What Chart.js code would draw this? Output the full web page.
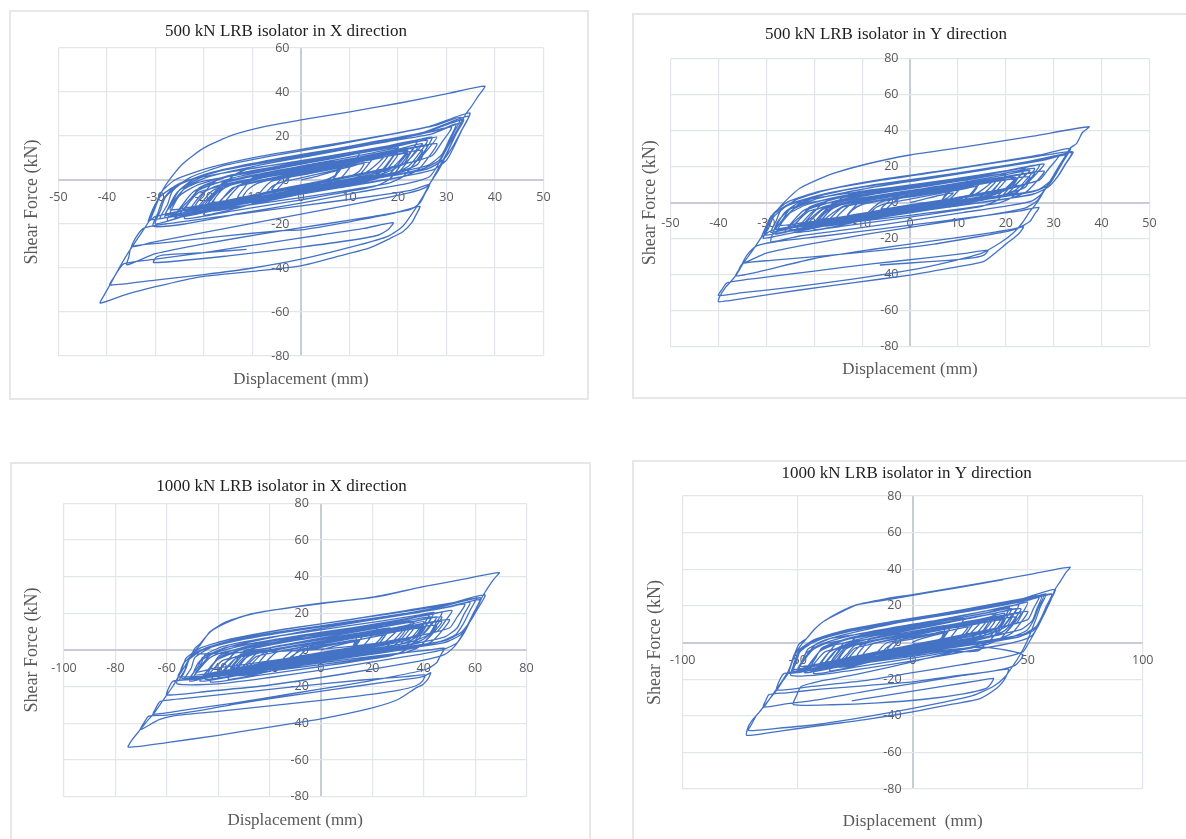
<!DOCTYPE html>
<html>
<head>
<meta charset="utf-8">
<script src="https://cdn.jsdelivr.net/npm/chart.js@4.4.1/dist/chart.umd.min.js"></script>
<style>
  body { margin: 0; background: #fff; width: 1186px; height: 839px; overflow: hidden; position: relative; }
  .box { position: absolute; box-sizing: border-box; border: 2px solid #e5e7eb; }
  canvas { position: absolute; }
</style>
</head>
<body>
<div class="box" style="left:9px;top:10px;width:580px;height:390px"></div>
<div class="box" style="left:632px;top:13px;width:560px;height:386px"></div>
<div class="box" style="left:10px;top:462px;width:581px;height:400px"></div>
<div class="box" style="left:632px;top:460px;width:560px;height:400px"></div>
<canvas id="c500x" width="576" height="386" style="left:11px;top:12px"></canvas>
<canvas id="c500y" width="556" height="382" style="left:634px;top:15px"></canvas>
<canvas id="c1000x" width="577" height="396" style="left:12px;top:464px"></canvas>
<canvas id="c1000y" width="556" height="396" style="left:634px;top:462px"></canvas>
<script>
// displacement (mm), shear force (kN) pairs
const loop500X = [
  [0,0],[3,1.5],[6,3.5],[8,4.5],[7,2],[5,0],[1,-2],[-4,-4],[-7,-5.5],
  [-6,-3],[-4,-1],[0,1],[5,3.5],[10,6],[13,7.5],[12,4],[10,1.5],[5,-1],[-1,-3.5],[-7,-6],[-12,-8],
  [-11,-4.5],[-9,-1.5],[-3,1.5],[4,4.5],[11,7.5],[17,10.5],[15,6],[13,3],[6,-0.5],[-2,-4],[-10,-7.5],[-17,-10.5],
  [-15,-6],[-13,-2.5],[-6,1],[2,4.5],[10,8],[18,11.5],[22,13.5],[20,8],[18,4.5],[11,1],[3,-2.5],[-5,-6],[-13,-9.5],[-21,-13],
  [-19,-8],[-17,-4],[-10,0.5],[0,5],[10,9.5],[20,14],[25,16.5],[23,11],[21,7],[13,3],[3,-1.5],[-7,-6],[-17,-10.5],[-25,-14],
  [-23,-9],[-21,-4.5],[-14,1],[-4,5.5],[7,10],[17,14.5],[24,17.5],[28,19.5],[26,13.5],[24,9],[17,5],[7,0.5],[-3,-4],[-13,-8.5],[-22,-12.5],[-28,-16],
  [-26.5,-10],[-25,-4.5],[-19,1.5],[-9,6.5],[2,11],[14,16],[24,20.5],[31,24],[29,17],[27,11],[20,6.5],[10,1.5],[0,-3],[-10,-7.5],[-20,-12],[-29,-17.5],
  [-27.5,-11],[-26.5,-5],[-23,1],[-16,6.5],[-6,11],[6,15.5],[18,20.5],[28,25],[33,28.5],
  [31.5,21.5],[30,15],[28.5,9],[25,5],[15,0.5],[3,-4.5],[-9,-9.5],[-21,-14],[-31,-18],
  [-30,-12],[-29,-6],[-26,0],[-19,5.5],[-9,10.5],[3,15],[15,19.5],[26,24],[34.8,30.5],
  [33.2,23],[31.5,16],[29.5,9.5],[26,5],[16,1],[4,-3.5],[-8,-8.5],[-19,-13],[-30,-20],
  [-29,-14],[-28,-8],[-25,-2],[-18,3.5],[-8,8],[4,12.5],[16,17.5],[26,22],[33.5,27.5],
  [32,21],[30.5,14],[29,7],[27.5,1.5],[26,-3],[22,-6],[12,-10.5],[0,-15.5],[-12,-20.5],[-24,-25.5],[-31,-28.5],[-34.9,-30.3],
  [-34,-26],[-32.5,-22],[-28,-20],[-18,-17],[-6,-13.5],[6,-10],[16,-7],[23,-4.5],[26.5,-2],
  [25.5,-6.5],[24.5,-10.5],[22.5,-13.5],[15,-16.5],[5,-20],[-8,-24.5],[-20,-29],[-30,-33.5],[-35.9,-38.6],
  [-35.5,-35],[-34.9,-30.3],[-28,-28.5],[-16,-25.5],[-4,-23],[0,-22.7],[10,-19],[19,-15.2],[24.5,-12],
  [23.8,-15.5],[22.8,-19.5],[21,-23.5],[18.4,-26.5],[14,-31],[8,-34.5],[0,-39],[-10,-41.5],[-20.8,-44],[-30,-48.5],[-36,-52],[-41.4,-56],
  [-40.5,-52],[-39.4,-47.7],[-37.5,-40],[-35.9,-34],[-33.5,-26],[-31,-17.5],[-29.6,-10],[-28.7,-5.3],[-27,0.5],[-24.3,7.5],[-20.1,14.5],[-14,20.5],[-7.1,24.5],[0,27.3],[10.1,31],[20.4,35],[30.7,39.5],[37.9,42.7],
  [36.5,38],[35,33],[34,30],[32.5,24],[31,18],[29.5,12],[28,6],[26.5,1.5],[22,-1.5],[12,-5.5],[0,-10.5],[-12,-15],[-24,-20],[-30.5,-21],
  [-29.5,-15],[-28.5,-9],[-26,-3],[-20,2.5],[-10,7.5],[2,12],[14,17],[25,21.5],[34.5,29],
  [33,22],[31.5,15],[30,9],[27,4.5],[17,0],[5,-4],[-7,-9],[-18,-13],[-28,-17],
  [-27,-11],[-25.5,-5.5],[-22,0.5],[-14,5.5],[-4,10],[8,14.5],[20,19],[29,23],[32,25.5],
  [30.5,18],[29,11.5],[26,6.5],[16,2],[4,-2.5],[-8,-7.5],[-19,-12],[-27.5,-18.5],
  [-26.5,-12.5],[-25,-7],[-21,-2],[-13,3],[-3,7],[9,11.5],[20,16],[27,19.5],
  [25.5,13],[24,7],[19,3],[8,-1.5],[-4,-6],[-15,-10.5],[-24,-14],
  [-22.5,-8.5],[-21,-3.5],[-15,1.5],[-5,6],[7,10.5],[18,15],[24,18],
  [22.5,12],[21,7],[14,3],[3,-1.5],[-9,-6.5],[-19,-10.5],
  [-17.5,-5.5],[-16,-1],[-8,3],[3,7.5],[14,12],[20,14.5],
  [18.5,9],[17,5],[8,1],[-3,-3.5],[-13,-8],
  [-11.5,-3],[-10,1],[0,5],[10,9],[15,11],
  [13.5,6],[12,2.5],[3,-1],[-6,-4.5],
  [-4.5,-0.5],[-3,2.5],[5,6],[9,7.5],
  [7.5,3],[6,-1],[0,-4.5],[-8,-8],[-16,-11.5],
  [-14,-5.5],[-12,-1.5],[-5,2.5],[4,6],[12,9],[18,11.5],
  [16,5.5],[14,1.5],[6,-2.5],[-3,-6.5],[-12,-10],[-20,-13.5],
  [-18,-7.5],[-16,-3],[-8,1.5],[2,5.5],[12,9.5],[22,13],
  [20,7],[18,2.5],[10,-1.5],[0,-6],[-10,-10],[-22,-15],
  [-20,-9],[-18,-4.5],[-10,0],[0,4.5],[10,8.5],[20,13],[26,15.5],
  [24,9],[22,4.5],[14,0.5],[4,-4],[-6,-8.5],[-16,-12.5],[-25,-16],
  [-23,-10],[-21,-5.5],[-13,-1],[-3,3.5],[7,8],[17,12],[24,15],
  [22,8.5],[20,3.5],[12,-1],[2,-5.5],[-8,-10],[-18,-14],
  [-16,-8],[-14,-3.5],[-6,0.5],[4,5],[14,9.5],[20,12],
  [18,5.5],[16,1],[8,-3],[-2,-7],[-10,-10.5],
  [-8,-4.5],[-6,-0.5],[2,3],[10,6.5],[14,8],
  [12,2],[10,-1.5],[2,-5],[-6,-8],
  [-4,-2],[-2,1.5],[5,4.5],[8,5.5],
  [6.5,0],[4,-3.5],[0,-6],[-10,-11],[-20,-16],
  [-18,-9],[-16,-4],[-13,-1],[0,4],[14,9],[22,12],
  [20,5],[18,0],[15,-3],[0,-9],[-14,-14],[-24,-17.5],
  [-22,-10.5],[-20,-5.5],[-17,-2.5],[0,4.5],[16,10],[25,13.5],
  [23,6.5],[21,1.5],[18,-1.5],[0,-8],[-16,-13],[-26,-17],
  [-24,-10],[-22,-5],[-19,-2],[-8,2.5],[6,8],[20,13.5],[28,16.5],
  [26,9.5],[24,4.5],[21,1.5],[8,-3.5],[-6,-8.5],[-20,-13],[-28,-16],
  [-26,-9],[-24,-4],[-21,-1],[-10,3.5],[4,9],[18,14.5],[26,18],
  [24,11],[22,6],[19,3],[6,-2],[-8,-7.5],[-22,-12],[-27,-13.5],
  [-25,-6.5],[-23,-1.5],[-20,1.5],[-8,6],[6,11],[18,15.5],[24,18],
  [22,11],[20,6],[17,3],[4,-2],[-10,-7],[-18,-10],
  [-16,-3],[-14,2],[-11,5],[0,8.5],[12,12.5],
  [10,5.5],[8,0.5],[5,-2.5],[-6,-7],[-16,-11],[-22,-13],
  [-20,-6],[-18,-1],[-15,2],[-4,6.5],[10,11.5],[20,15],
  [18,8],[16,3],[13,0],[0,-5],[-12,-9.5],[-20,-12.5],
  [-18,-6],[-16,-1.5],[-8,2.5],[2,6.5],[8,8.5],
  [6.5,0],[4,-3],[0,-4.5],[-10,-8],[-20,-12],[-30,-16.5],[-31.5,-19],
  [-30.5,-13],[-29,-7.5],[-25,-1.5],[-17,4],[-6,8.5],[6,13],[18,17.5],[27,21],[33,26],
  [31.5,19],[30,12],[28.5,6],[27,0],[26,-4],[25,-8],[23,-15],[21,-21],[18,-25.5],[12,-29.5],[0,-36],[-10,-40],[-20,-43],[-30,-45.5],[-39.4,-47.7],
  [-38.5,-44],[-37.5,-40.5],[-36.5,-38],[-30,-36],[-20,-33],[-8,-29],[4,-25],[13,-22],[19,-19.4],
  [18,-22.5],[16,-25],[10,-27.5],[0,-30.5],[-15,-34.5],[-30.4,-37.6],
  [-29.8,-35],[-28,-34],[-20,-33],[-11.2,-31.5]
];

const loop500Y = [
  [0,0],[3,2],[6,4],[9,5.5],[8,3],[6,0.5],[1,-1.5],[-4,-3.5],[-8,-5],
  [-7,-2.5],[-5,-0.5],[0,2],[6,5],[11,7.5],[14,9],[13,5],[11,2.5],[5,-0.5],[-2,-3],[-8,-5.5],[-13,-7.5],
  [-12,-4],[-10,-1],[-4,2],[3,5],[10,8],[17,11.5],[15,7],[13,4],[6,0.5],[-2,-3],[-10,-6.5],[-18,-10],
  [-16,-5.5],[-14,-2],[-7,2],[1,5.5],[10,9.5],[18,13],[23,15.5],[21,10],[19,6],[12,2],[3,-1.5],[-5,-5],[-14,-8.5],[-22,-12],
  [-20,-7],[-18,-3],[-11,1.5],[-1,6],[9,10.5],[19,15],[25,18],[23,12.5],[21,8],[13,4],[3,-0.5],[-7,-5],[-17,-9.5],[-25,-13],
  [-23,-8],[-21,-3.5],[-14,2],[-4,7],[7,11.5],[17,16],[24,19.5],[28,21.5],[26,15],[24,10],[17,6],[7,1.5],[-3,-3],[-13,-7.5],[-22,-11.5],[-28,-15],
  [-26.5,-9],[-25,-3.5],[-19,2.5],[-9,8],[2,13],[14,18],[24,22.5],[31,26],[29,19],[27,12.5],[20,8],[10,3],[0,-2],[-10,-6.5],[-20,-11],[-29,-16.5],
  [-28,-10.5],[-27,-4.5],[-23.5,2],[-16,8],[-6,13],[6,17.5],[18,22.5],[27,26.5],[33.5,30.2],
  [32,23],[30.5,16],[29,10],[25.5,6],[15,1.5],[3,-3.5],[-9,-8.5],[-21,-13],[-30.3,-18],
  [-29.5,-12],[-28.5,-6],[-25.5,0.5],[-18.5,6.5],[-8.5,11.5],[3,16],[15,21],[26,25.5],[34,28.3],
  [32.5,21.5],[31,15],[29,9],[25.5,4.5],[15.5,0.5],[4,-4],[-8,-9],[-19,-13.5],[-30.6,-19.8],
  [-29.5,-14],[-28.5,-8],[-25.5,-1.5],[-18.5,4.5],[-8.5,9.5],[3.5,14],[16,19],[26,23.5],[32.5,27],
  [31,20],[29.5,13],[28,6.5],[26.5,1],[24,-3],[15,-7.5],[3,-12.5],[-9,-17.5],[-21,-23],[-30,-28],[-34.9,-33.7],
  [-34,-29],[-32,-24],[-28,-21.7],[-18,-18.5],[-6,-14.5],[6,-10.5],[16,-7],[23,-4.5],[26.9,-2.6],
  [26,-6.5],[25,-10.5],[22.5,-14],[15,-17.5],[4,-21.5],[-8,-26],[-20,-31],[-31.5,-38.3],[-36.4,-40.7],
  [-35.8,-37.5],[-34.9,-33.7],[-29,-32],[-18,-29.5],[-6,-26.5],[5,-23],[15,-18.5],[21,-15.5],[23.7,-13.3],
  [22.8,-17],[21.5,-20],[20.2,-22.6],[18,-27.5],[15.3,-32.8],[8,-36.5],[0,-40.2],[-12,-44.5],[-23,-48.5],[-32,-52],[-38,-54.5],[-40,-55],
  [-39.8,-52.5],[-38.5,-47],[-36.4,-40.7],[-34.9,-34],[-33,-27],[-31,-19],[-29.2,-9.6],[-27.1,-2.2],[-25,3.5],[-23,8],[-19.5,12.5],[-16,16.3],[-9,21.5],[0,26.5],[11.8,31.1],[25.7,37],[37.4,42.2],
  [36,39],[34.8,33],[33.4,30.2],[32,24],[30.5,17.5],[29,11],[27.5,5],[25.5,1],[21,-1.5],[11,-5.5],[0,-10],[-12,-14.5],[-23,-18.5],[-29,-21.7],
  [-28.5,-16],[-27.5,-10],[-25,-3.5],[-19,2.5],[-9,8],[3,13],[15,18],[26,23],[33.8,28],
  [32.3,21],[30.8,14.5],[29,9],[26,5],[16,0.5],[4,-3.5],[-8,-8],[-19,-12.5],[-28.5,-17],
  [-27.5,-11],[-26,-5],[-22.5,1],[-14.5,6.5],[-4.5,11],[7.5,15.5],[19.5,20],[28.5,24],[32.5,26.5],
  [31,19.5],[29.5,12.5],[26.5,7],[16,2.5],[4,-2],[-8,-7],[-19,-11.5],[-28,-17.5],
  [-27,-12],[-25.5,-6.5],[-21.5,-1],[-13.5,4],[-3.5,8.5],[8.5,13],[19.5,17.5],[27,21],
  [25.5,14.5],[24,8.5],[19,4],[8,-0.5],[-4,-5],[-15,-9.5],[-24,-13],
  [-22.5,-7.5],[-21,-2.5],[-15,2.5],[-5,7.5],[7,12],[18,16.5],[24,19.5],
  [22.5,13.5],[21,8],[14,4],[3,-0.5],[-9,-5.5],[-19,-9.5],
  [-17.5,-4.5],[-16,0],[-8,4.5],[3,9],[14,13.5],[20,16],
  [18.5,10.5],[17,6],[8,2],[-3,-2.5],[-13,-7],
  [-11.5,-2],[-10,2],[0,6.5],[10,10.5],[15,12.5],
  [13.5,7.5],[12,3.5],[3,0],[-6,-3.5],
  [-4.5,0.5],[-3,3.5],[5,7],[9,8.5],
  [7.5,4],[6,0],[0,-3.5],[-8,-7],[-16,-10.5],
  [-14,-4.5],[-12,-0.5],[-5,3.5],[4,7],[12,10],[18,12.5],
  [16,6.5],[14,2.5],[6,-1.5],[-3,-5.5],[-12,-9],[-20,-12.5],
  [-18,-6.5],[-16,-2],[-8,2.5],[2,6.5],[12,10.5],[22,14],
  [20,8],[18,3.5],[10,-0.5],[0,-5],[-10,-9],[-22,-14],
  [-20,-8],[-18,-3.5],[-10,1],[0,5.5],[10,9.5],[20,14],[26,16.5],
  [24,10],[22,5.5],[14,1.5],[4,-3],[-6,-7.5],[-16,-11.5],[-25,-15],
  [-23,-9],[-21,-4.5],[-13,0],[-3,4.5],[7,9],[17,13],[24,16],
  [22,9.5],[20,4.5],[12,0],[2,-4.5],[-8,-9],[-18,-13],
  [-16,-7],[-14,-2.5],[-6,1.5],[4,6],[14,10.5],[20,13],
  [18,6.5],[16,2],[8,-2],[-2,-6],[-10,-9.5],
  [-8,-3.5],[-6,0.5],[2,4],[10,7.5],[14,9],
  [12,3],[10,-0.5],[2,-4],[-6,-7],
  [-4,-1],[-2,2.5],[5,5.5],[8,6.5],
  [6.5,1],[4,-2.5],[0,-5],[-10,-10],[-20,-15],
  [-18,-8],[-16,-3],[-13,0],[0,5],[14,10],[22,13],
  [20,6],[18,1],[15,-2],[0,-8],[-14,-13],[-24,-16.5],
  [-22,-9.5],[-20,-4.5],[-17,-1.5],[0,5.5],[16,11],[25,14.5],
  [23,7.5],[21,2.5],[18,-0.5],[0,-7],[-16,-12],[-26,-16],
  [-24,-9],[-22,-4],[-19,-1],[-8,3.5],[6,9],[20,14.5],[28,17.5],
  [26,10.5],[24,5.5],[21,2.5],[8,-2.5],[-6,-7.5],[-20,-12],[-28,-15],
  [-26,-8],[-24,-3],[-21,0],[-10,4.5],[4,10],[18,15.5],[26,19],
  [24,12],[22,7],[19,4],[6,-1],[-8,-6.5],[-22,-11],[-27,-12.5],
  [-25,-5.5],[-23,-0.5],[-20,2.5],[-8,7],[6,12],[18,16.5],[24,19],
  [22,12],[20,7],[17,4],[4,-1],[-10,-6],[-18,-9],
  [-16,-2],[-14,3],[-11,6],[0,9.5],[12,13.5],
  [10,6.5],[8,1.5],[5,-1.5],[-6,-6],[-16,-10],[-22,-12],
  [-20,-5],[-18,0],[-15,3],[-4,7.5],[10,12.5],[20,16],
  [18,9],[16,4],[13,1],[0,-4],[-12,-8.5],[-20,-11.5],
  [-18,-5],[-16,-0.5],[-8,3.5],[2,7.5],[8,9.5],
  [6.5,1],[4,-2],[0,-3.5],[-10,-7],[-20,-11],[-29,-15.5],[-31,-19],
  [-30,-13],[-29,-7.5],[-25.5,-1],[-17.5,5],[-6.5,10],[5.5,14.5],[17.5,19.5],[26.5,23.5],[32.5,27],
  [31,20],[29.5,13],[28,6.5],[26.5,0],[25,-5],[23.5,-11],[21.5,-17],[19,-22],[15,-28],[8,-33],[0,-37.5],[-12,-42.5],[-25,-47],[-35,-50],[-40,-51.5],
  [-39.2,-48],[-38.2,-44.5],[-32,-42],[-20,-38],[-8,-34],[4,-30.5],[12,-28],[16.3,-26.3],
  [15.5,-29],[13.5,-30.5],[8,-32],[0,-33.5],[-6.3,-34.6]
];

const loop1000X = [
  [0,0],[5,2],[11,4],[15,5],[13,2.5],[10,0],[2,-2],[-7,-4],[-13,-5.5],
  [-11,-3],[-8,-0.5],[0,1.5],[9,4],[18,6.5],[24,8],[22,4.5],[19,1.5],[9,-1],[-2,-3.5],[-13,-6],[-22,-8],
  [-20,-4.5],[-17,-1],[-6,2],[6,5],[19,8.5],[30,11.5],[27,7],[24,3.5],[12,0],[-3,-3.5],[-17,-7],[-31,-10.5],
  [-28,-6],[-25,-2],[-12,2],[3,5.5],[18,9.5],[32,13],[40,15.5],[37,9.5],[34,5.5],[20,1.5],[6,-2],[-9,-5.5],[-24,-9],[-38,-12.5],
  [-35,-7.5],[-32,-3],[-19,1.5],[0,6.5],[18,11],[36,15.5],[45,18],[42,12],[39,8],[24,3.5],[6,-1],[-12,-5.5],[-31,-10],[-45,-13.5],
  [-42,-8],[-39,-3.5],[-26,2],[-8,7],[12,12],[31,16.5],[43,19.5],[51,21.5],[48,15],[45,10],[31,6],[13,1.5],[-5,-3],[-23,-7.5],[-40,-12],[-51,-15.5],
  [-48,-9.5],[-46,-4],[-35,2],[-17,7.5],[3,12.5],[25,17.5],[44,22],[56,25],[53,18],[50,12],[37,7.5],[19,2.5],[0,-2],[-18,-6.5],[-36,-11],[-53,-16],
  [-50.5,-10],[-49,-4],[-42,2],[-29,7.5],[-11,12],[11,16.5],[33,21.5],[52,26],[60.6,29],
  [58,21.5],[55.5,14.5],[52.5,8.5],[46,4.5],[28,0],[6,-4.5],[-16,-9],[-38,-13.5],[-55.5,-14.5],
  [-54,-10],[-52.5,-4.5],[-47,1],[-35,6],[-16,11],[6,15.5],[28,20],[48,24.5],[63.8,30],
  [61,22.5],[58,15.5],[54.5,9.5],[48,5],[29,1],[7,-3.5],[-15,-8.5],[-35,-12.5],[-54.9,-16.4],
  [-53,-11],[-51.5,-5.5],[-46,0],[-33,5],[-15,9.5],[7,14],[29,18.5],[48,23],[62,27.5],
  [59.5,20.5],[57,13.5],[54.5,7],[52,2],[48,-2.5],[40,-5.5],[22,-10],[0,-15],[-22,-19.5],[-44,-22.5],[-60,-24.5],
  [-59,-20],[-57.5,-17],[-50,-16],[-33,-13],[-11,-9],[11,-5],[29,-2],[42,0],[48,1],
  [46.5,-3],[45,-7],[41,-10.5],[28,-14.5],[10,-19],[-12,-24],[-34,-29],[-52,-32.5],[-65.2,-34.9],
  [-64,-31],[-62.5,-28],[-50,-26],[-33.5,-23.5],[-10,-20],[15,-16.5],[33,-14.5],[40.5,-13.6],
  [39.5,-17],[37,-19.5],[30,-22],[15,-25],[0,-27.5],[-20,-30.5],[-40,-33.5],[-56.8,-35.8],[-63,-38],[-70.4,-43.6],
  [-69,-40],[-67,-36],[-60,-35.5],[-45,-32.5],[-33.5,-29.5],[-15,-25.5],[5,-21.5],[25,-17.5],[39.8,-14.5],[42.7,-12.4],
  [42,-15],[41,-17],[39.5,-19],[37.2,-20.5],[30,-27],[20,-31.5],[0,-37.5],[-20,-42],[-40,-46.5],[-60,-50.5],[-75,-53],
  [-73.5,-49],[-70.4,-43.6],[-67.5,-38.5],[-65.2,-34.9],[-62.5,-29.5],[-60,-24.5],[-57.5,-19.5],[-55.5,-14.5],[-53,-9],[-50,-2],[-47,2.7],[-43.2,10],[-36.7,15.5],[-26.3,20],[-13,23],[0,25.5],[21.7,29],[39.8,34.5],[55,38.5],[69.4,42.2],
  [67.5,39],[65,34],[63.2,30],[61,24],[58.5,17],[56,10],[53,4],[48,0.5],[40,-2],[20,-6.5],[0,-11],[-20,-15],[-40,-18.5],[-56,-18.5],
  [-55,-13],[-53.5,-7.5],[-49,-1.5],[-38,4],[-20,9],[2,13.5],[24,18],[45,23],[62,28.5],
  [60,21.5],[57.5,14.5],[54.5,8.5],[48,4],[29,0],[7,-4],[-15,-8.5],[-36,-13],[-54,-15.5],
  [-52.5,-10],[-51,-4.5],[-45,1],[-32,6],[-13,10.5],[9,15],[31,19.5],[50,23.5],[58,26],
  [55.5,19],[53,12],[48,7],[30,2],[8,-2.5],[-14,-7],[-34,-11.5],[-51,-17],
  [-49.5,-12],[-47.5,-6.5],[-41,-1.5],[-27,3.5],[-8,8],[14,12.5],[33,17],[47,20.5],
  [44.5,14],[42,8.5],[34,4],[15,-0.5],[-7,-5],[-27,-9.5],[-44,-13.5],
  [-42,-8],[-39.5,-3],[-29,2],[-10,7],[12,11.5],[31,16],[42,19],
  [39.5,13],[37,8],[25,3.5],[5,-1],[-16,-5.5],[-35,-10],
  [-32.5,-5],[-30,-0.5],[-15,4],[5,8.5],[24,13],[35,15.5],
  [32.5,10],[30,6],[15,2],[-5,-2.5],[-24,-7],
  [-21.5,-2.5],[-19,1.5],[0,6],[18,10],[27,12],
  [24.5,7],[22,3],[5,-0.5],[-11,-4],
  [-8.5,0],[-6,3],[8,6.5],[16,8],
  [14,3],[11,-1],[0,-4.5],[-14,-8],[-29,-11.5],
  [-25.5,-5.5],[-22,-1.5],[-9,2.5],[7,6],[22,9],[32,11.5],
  [28.5,5.5],[25,1.5],[11,-2.5],[-5,-6.5],[-22,-10],[-36,-13.5],
  [-32.5,-7.5],[-29,-3],[-14,1.5],[4,5.5],[22,9.5],[40,13],
  [36.5,7],[33,2.5],[18,-1.5],[0,-6],[-18,-10],[-40,-15],
  [-36.5,-9],[-33,-4.5],[-18,0],[0,4.5],[18,8.5],[36,13],[47,15.5],
  [43.5,9],[40,4.5],[25,0.5],[7,-4],[-11,-8.5],[-29,-12.5],[-45,-16],
  [-41.5,-10],[-38,-5.5],[-23,-1],[-5,3.5],[13,8],[31,12],[43,15],
  [39.5,8.5],[36,3.5],[22,-1],[4,-5.5],[-14,-10],[-32,-14],
  [-28.5,-8],[-25,-3.5],[-11,0.5],[7,5],[25,9.5],[36,12],
  [32.5,5.5],[29,1],[14,-3],[-4,-7],[-18,-10.5],
  [-14.5,-4.5],[-11,-0.5],[4,3],[18,6.5],[25,8],
  [21.5,2],[18,-1.5],[4,-5],[-11,-8],
  [-7.5,-2],[-4,1.5],[9,4.5],[14,5.5],
  [12,0],[8,-3.5],[0,-6],[-18,-11],[-36,-16],
  [-32.5,-9],[-29,-4],[-23.5,-1],[0,4],[25,9],[40,12],
  [36.5,5],[33,0],[27.5,-3],[0,-9],[-25,-14],[-43,-17.5],
  [-39.5,-10.5],[-36,-5.5],[-30.5,-2.5],[0,4.5],[29,10],[45,13.5],
  [41.5,6.5],[38,1.5],[32.5,-1.5],[0,-8],[-29,-13],[-47,-17],
  [-43.5,-10],[-40,-5],[-34.5,-2],[-14,2.5],[11,8],[36,13.5],[50,16.5],
  [46.5,9.5],[43,4.5],[37.5,1.5],[14,-3.5],[-11,-8.5],[-36,-13],[-50,-16],
  [-46.5,-9],[-43,-4],[-37.5,-1],[-18,3.5],[7,9],[32,14.5],[47,18],
  [43.5,11],[40,6],[34.5,3],[11,-2],[-14,-7.5],[-40,-12],[-49,-13.5],
  [-45.5,-6.5],[-42,-1.5],[-36.5,1.5],[-14,6],[11,11],[32,15.5],[43,18],
  [39.5,11],[36,6],[30.5,3],[7,-2],[-18,-7],[-32,-10],
  [-28.5,-3],[-25,2],[-19.5,5],[0,8.5],[22,12.5],
  [18.5,5.5],[15,0.5],[9.5,-2.5],[-11,-7],[-29,-11],[-40,-13],
  [-36.5,-6],[-33,-1],[-27.5,2],[-7,6.5],[18,11.5],[36,15],
  [32.5,8],[29,3],[23.5,0],[0,-5],[-22,-9.5],[-36,-12.5],
  [-32.5,-6],[-29,-1.5],[-14,2.5],[4,6.5],[14,8.5],
  [12,1],[9,-1.5],[0,-2.5],[-15,-5],[-30,-8],[-42,-10],[-48,-12],
  [-46.5,-7],[-45,-2.5],[-38,2],[-22,6.5],[0,11],[22,15.5],[38,19],[44,20.5],
  [41.5,14.5],[39,9],[33,6],[15,2.5],[-5,0],[-25,-1],[-40,-1.8],[-50,-2],
  [-49,1],[-47,3.5],[-43,10],[-36.5,15],[-30,18.5],[-20,21.5],[0,25.3],[20,28.8],[39.8,34.5]
];

const loop1000Y = [
  [-26.5,-31.9],[-15,-29.5],[0,-26.5],[15,-23.5],[28,-21],[35.1,-19.6],
  [34,-22.5],[32,-25],[22,-28],[5,-31],[-15,-33],[-35,-34],[-51.9,-33.9],
  [-50.5,-29],[-48.5,-24],[-40,-21],[-25,-17.5],[-10,-13.5],[5,-9],[18,-5],[28,-1.5],[32,1],
  [30.5,-2.5],[28.5,-4.5],[18,-5],[8,-3],[0,0],
  [5,2.5],[11,4.5],[15,5.5],[13,3],[10,0.5],[2,-1.5],[-7,-3.5],[-13,-5],
  [-11,-2.5],[-8,0],[0,2],[9,4.5],[18,7],[24,8.5],[22,5],[19,2],[9,-0.5],[-2,-3],[-13,-5.5],[-22,-7.5],
  [-20,-4],[-17,-0.5],[-6,2.5],[6,5.5],[19,9],[30,12],[27,7.5],[24,4],[12,0.5],[-3,-3],[-17,-6.5],[-31,-10],
  [-28,-5.5],[-25,-1.5],[-12,2.5],[3,6],[18,10],[32,13.5],[40,16],[37,10],[34,6],[20,2],[6,-1.5],[-9,-5],[-24,-8.5],[-38,-12],
  [-35,-7],[-32,-2.5],[-19,2],[0,7],[18,11.5],[36,16],[45,18.5],[42,12.5],[39,8.5],[24,4],[6,-0.5],[-12,-5],[-31,-9.5],[-45,-13],
  [-42,-7.5],[-39,-3],[-26,2.5],[-8,7.5],[12,12.5],[31,17],[43,20],[50,22],[47.5,15.5],[45,10.5],[31,6.5],[13,2],[-5,-2.5],[-23,-7],[-40,-11.5],[-50,-15],
  [-47.5,-9],[-45.5,-3.5],[-35,2.5],[-17,8],[3,13],[25,18],[43,22.5],[55,25.5],[52.5,18.5],[50,12.5],[37,8],[19,3],[0,-1.5],[-18,-6],[-36,-10.5],[-52,-16],
  [-50.5,-10.5],[-49,-5],[-42,1],[-29,6.5],[-11,11],[11,15.5],[33,20.5],[48,24],[56.8,25.3],
  [54.5,18.5],[52.5,12],[49.5,6.5],[43,3],[25,-1],[3,-5.5],[-19,-10],[-39,-14],[-54.1,-16.8],
  [-53,-12.3],[-51.2,-5.9],[-46,-1],[-34,4.5],[-15,9.5],[7,14],[29,18.5],[48,24],[61.9,29],
  [59.5,22],[57,15],[54,9],[48,4.5],[29,0.5],[7,-4],[-15,-8.5],[-35,-12.5],[-52,-16],
  [-51,-11],[-49.5,-5.5],[-44,0],[-31,5],[-13,9.5],[9,14],[31,18.5],[50,23],[60.4,26.2],
  [58,19],[55.5,12],[53,5.5],[50.5,0],[48,-5],[40,-8],[22,-12],[0,-16.5],[-22,-21],[-44,-24],[-59.1,-26],
  [-58,-21],[-56,-17],[-48,-15.5],[-31,-12.5],[-10,-8.5],[12,-4.5],[30,-2.5],[42,-4.5],[48,-6.8],
  [46.5,-10],[44.5,-12.5],[38,-15],[22,-18],[2,-22],[-20,-26.5],[-40,-31],[-55,-33.5],[-64.9,-35.2],
  [-64,-32],[-62.5,-28.5],[-55,-27.5],[-40,-25.5],[-20,-23.5],[0,-21.5],[20,-18],[33,-16],[41.6,-14.5],
  [41,-17.5],[39.5,-21],[36.5,-25],[29.3,-30.6],[18,-33.5],[0,-37.9],[-20,-42],[-35,-44.5],[-50.4,-47.1],[-62,-49.2],[-72.2,-50.7],
  [-71.5,-46],[-69.5,-42],[-67,-38.5],[-64.9,-35.2],[-62,-30.5],[-59.1,-26],[-56.5,-21],[-54.1,-16.8],[-52.5,-11],[-50.4,-4.9],[-48,-0.5],[-46,2.4],[-42.5,7.5],[-38.8,11.5],[-32,16.5],[-24.3,20.7],[-12,23.8],[0,26.2],[22,30.8],[51,37.2],[68.4,41.2],
  [66.5,38],[64,33],[61.9,29],[60,23],[57.5,16.5],[55,10],[52,4],[47,1],[38,-1.5],[18,-6],[0,-10],[-20,-14],[-40,-17.5],[-53,-18],
  [-52,-13],[-50.5,-7.5],[-46,-1.5],[-35,4],[-18,9],[4,13.5],[26,18],[46,22.5],[60.4,26.5],
  [58,19.5],[55.5,12.5],[52.5,6.5],[46,3],[27,-1],[5,-5],[-17,-9.5],[-37,-13.5],[-52,-14.5],
  [-51,-9.5],[-49.5,-4.5],[-43,1],[-30,6],[-11,10.5],[11,15],[33,19.5],[50,23.5],[56,25],
  [54,18.5],[52,12],[47,7],[29,2.5],[7,-2],[-15,-6.5],[-35,-11],[-50,-16.5],
  [-48.5,-11.5],[-46.5,-6],[-40,-1],[-26,4],[-7,8.5],[15,13],[33,17.5],[46,20.5],
  [43.5,14.5],[41,9],[33,4.5],[14,0],[-8,-4.5],[-28,-9],[-44,-13],
  [-42,-8],[-39.5,-3],[-29,2],[-10,7],[12,11.5],[31,16],[42,19],
  [39.5,13],[37,8],[25,3.5],[5,-1],[-16,-5.5],[-35,-10],
  [-32.5,-5],[-30,-0.5],[-15,4],[5,8.5],[24,13],[35,15.5],
  [32.5,10],[30,6],[15,2],[-5,-2.5],[-24,-7],
  [-21.5,-2.5],[-19,1.5],[0,6],[18,10],[27,12],
  [24.5,7],[22,3],[5,-0.5],[-11,-4],
  [-8.5,0],[-6,3],[8,6.5],[16,8],
  [14,3.5],[11,-0.5],[0,-4],[-14,-7.5],[-29,-11],
  [-25.5,-5],[-22,-1],[-9,3],[7,6.5],[22,9.5],[32,12],
  [28.5,6],[25,2],[11,-2],[-5,-6],[-22,-9.5],[-36,-13],
  [-32.5,-7],[-29,-2.5],[-14,2],[4,6],[22,10],[40,13.5],
  [36.5,7.5],[33,3],[18,-1],[0,-5.5],[-18,-9.5],[-40,-14.5],
  [-36.5,-8.5],[-33,-4],[-18,0.5],[0,5],[18,9],[36,13.5],[47,16],
  [43.5,9.5],[40,5],[25,1],[7,-3.5],[-11,-8],[-29,-12],[-45,-15.5],
  [-41.5,-9.5],[-38,-5],[-23,-0.5],[-5,4],[13,8.5],[31,12.5],[43,15.5],
  [39.5,9],[36,4],[22,-0.5],[4,-5],[-14,-9.5],[-32,-13.5],
  [-28.5,-7.5],[-25,-3],[-11,1],[7,5.5],[25,10],[36,12.5],
  [32.5,6],[29,1.5],[14,-2.5],[-4,-6.5],[-18,-10],
  [-14.5,-4],[-11,0],[4,3.5],[18,7],[25,8.5],
  [21.5,2.5],[18,-1],[4,-4.5],[-11,-7.5],
  [-7.5,-1.5],[-4,2],[9,5],[14,6],
  [12,0.5],[8,-3],[0,-5.5],[-18,-10.5],[-36,-15.5],
  [-32.5,-8.5],[-29,-3.5],[-23.5,-0.5],[0,4.5],[25,9.5],[40,12.5],
  [36.5,5.5],[33,0.5],[27.5,-2.5],[0,-8.5],[-25,-13.5],[-43,-17],
  [-39.5,-10],[-36,-5],[-30.5,-2],[0,5],[29,10.5],[45,14],
  [41.5,7],[38,2],[32.5,-1],[0,-7.5],[-29,-12.5],[-47,-16.5],
  [-43.5,-9.5],[-40,-4.5],[-34.5,-1.5],[-14,3],[11,8.5],[36,14],[50,17],
  [46.5,10],[43,5],[37.5,2],[14,-3],[-11,-8],[-36,-12.5],[-50,-15.5],
  [-46.5,-8.5],[-43,-3.5],[-37.5,-0.5],[-18,4],[7,9.5],[32,15],[47,18.5],
  [43.5,11.5],[40,6.5],[34.5,3.5],[11,-1.5],[-14,-7],[-40,-11.5],[-49,-13],
  [-45.5,-6],[-42,-1],[-36.5,2],[-14,6.5],[11,11.5],[32,16],[43,18.5],
  [39.5,11.5],[36,6.5],[30.5,3.5],[7,-1.5],[-18,-6.5],[-32,-9.5],
  [-28.5,-2.5],[-25,2.5],[-19.5,5.5],[0,9],[22,13],
  [18.5,6],[15,1],[9.5,-2],[-11,-6.5],[-29,-10.5],[-40,-12.5],
  [-36.5,-5.5],[-33,-0.5],[-27.5,2.5],[-7,7],[18,12],[36,15.5],
  [32.5,8.5],[29,3.5],[23.5,0.5],[0,-4.5],[-22,-9],[-36,-12],
  [-32.5,-5.5],[-29,-1],[-14,3],[4,7],[14,9],
  [12,1],[9,-1.5],[0,-3],[-20,-7],[-40,-11.5],[-52,-15],
  [-50.5,-9.5],[-49,-4],[-43,1.5],[-30,6.5],[-11,11],[11,15.5],[33,20],[52,24.5],[58,26.5],
  [55.5,19.5],[53.5,12.5],[51.5,6],[49.5,0],[47,-6],[44,-12],[40,-19],[35,-24],[26,-29],[12,-33],[0,-36],[-20,-40.5],[-40,-44.5],[-60,-47],[-71.4,-48],
  [-70,-44.5],[-68,-40],[-66,-37],[-64,-34],[-61.5,-29.5],[-59,-25],[-56.5,-20.5],[-54,-15.5],[-52.5,-10.5],[-51.2,-5.9],[-49.5,-1],[-46,2.4],[-42.5,7.5],[-38.8,11.5],[-32,16],[-24.3,20.5],[-10,23.5],[0,25.8],[20,30],[39.4,34.4]
];

const chartTitles = [
  '500 kN LRB isolator in X direction',
  '500 kN LRB isolator in Y direction',
  '1000 kN LRB isolator in X direction',
  '1000 kN LRB isolator in Y direction'
];
const xAxisTitles = ['Displacement (mm)', 'Displacement (mm)', 'Displacement (mm)', 'Displacement  (mm)'];
const yAxisTitle = 'Shear Force (kN)';
const xRanges = [[-50, 50, 10], [-50, 50, 10], [-100, 80, 20], [-100, 100, 50]];
const yRanges = [[-80, 60, 20], [-80, 80, 20], [-80, 80, 20], [-80, 80, 20]];

// layout of each panel inside its canvas
const panels = [
  { id: 'c500x',  pts: loop500X,  padL: 17.5,  padR: 43.5, tTop: 9.5, tBot: 6.1,  yw: 30,   yPad: -7.3,  xh: 42,   xPad: 7.8,  tickPad: 10.2, yAt: -2.37 },
  { id: 'c500y',  pts: loop500Y,  padL: -11.5, padR: 40.5, tTop: 9.1, tBot: 14.2, yw: 48,   yPad: 17.4,  xh: 50.3, xPad: 16.8, tickPad: 13.1, yAt: -2.4 },
  { id: 'c1000x', pts: loop1000X, padL: 24.5,  padR: 62.5, tTop: 12.5, tBot: 6.4, yw: 27.5, yPad: -15.3, xh: 63.3, xPad: 29.1, tickPad: 10.8, yAt: -4.7 },
  { id: 'c1000y', pts: loop1000Y, padL: 36.5,  padR: 47.3, tTop: 1.8, tBot: 11.8, yw: 12.2, yPad: -26.3, xh: 69,   xPad: 26.1, tickPad: 10.8, yAt: -4.8 }
];

const tickFont = { family: 'Open Sans', size: 12.5 };
const serif = 'Liberation Serif';

function grid() {
  return {
    drawTicks: false,
    color: c => (c.tick && c.tick.value === 0) ? '#c7ccd6' : '#e2e5ea',
    lineWidth: c => (c.tick && c.tick.value === 0) ? 2 : 1.2
  };
}

panels.forEach((p, i) => {
  new Chart(document.getElementById(p.id), {
    type: 'scatter',
    data: {
      datasets: [{
        data: p.pts.map(d => ({ x: d[0], y: d[1] })),
        showLine: true,
        borderColor: '#4472C4',
        borderWidth: 1.3,
        pointRadius: 0,
        tension: 0.2,
        xAxisID: 'x',
        yAxisID: 'y'
      }]
    },
    options: {
      responsive: false,
      animation: false,
      devicePixelRatio: 1,
      layout: { padding: { left: p.padL, right: p.padR, top: 0, bottom: 0 } },
      plugins: {
        legend: { display: false },
        tooltip: { enabled: false },
        title: {
          display: true,
          text: chartTitles[i],
          color: '#1e1e1e',
          font: { family: serif, size: 17, weight: 'normal' },
          padding: { top: p.tTop, bottom: p.tBot }
        }
      },
      scales: {
        x: {
          type: 'linear', position: { y: 0 },
          min: xRanges[i][0], max: xRanges[i][1],
          ticks: { stepSize: xRanges[i][2], color: '#595959', font: tickFont, padding: p.tickPad, autoSkip: false, maxRotation: 0 },
          grid: grid(), border: { display: false }
        },
        y: {
          type: 'linear', position: { x: p.yAt },
          min: yRanges[i][0], max: yRanges[i][1],
          ticks: { stepSize: yRanges[i][2], color: '#595959', font: tickFont, autoSkip: false },
          grid: grid(), border: { display: false }
        },
        xt: {
          type: 'linear', position: 'bottom', min: 0, max: 1,
          ticks: { display: false }, grid: { display: false }, border: { display: false },
          title: { display: true, text: xAxisTitles[i], color: '#595959', font: { family: serif, size: 17 }, padding: { top: 0, bottom: p.xPad } },
          afterFit: s => { s.height = p.xh; }
        },
        yt: {
          type: 'linear', position: 'left', min: 0, max: 1,
          ticks: { display: false }, grid: { display: false }, border: { display: false },
          title: { display: true, text: yAxisTitle, color: '#595959', font: { family: serif, size: 18 }, padding: { top: p.yPad, bottom: 0 } },
          afterFit: s => { s.width = p.yw; }
        }
      }
    }
  });
});
</script>
</body>
</html>
